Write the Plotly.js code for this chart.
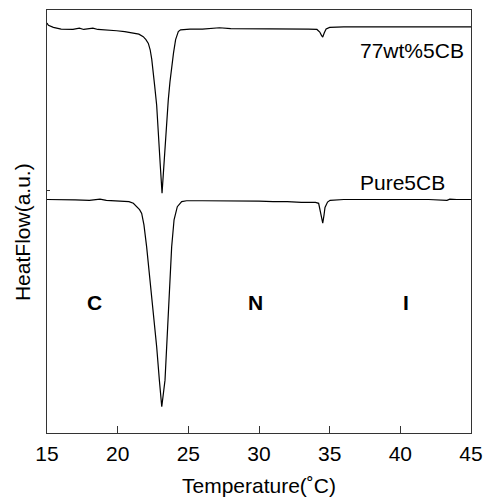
<!DOCTYPE html>
<html>
<head>
<meta charset="utf-8">
<script src="https://cdn.plot.ly/plotly-3.0.1.min.js"></script>
<style>html,body{margin:0;padding:0;background:#fff}#chart{width:486px;height:499px}</style>
</head>
<body>
<div id="chart"></div>
<script>
// Temperature (°C) and heat flow (arbitrary units)
const tempMix = [15.0, 15.1, 15.45, 16.0, 16.84, 17.29, 17.6, 18.25, 18.6, 19.3, 19.93, 20.5, 21.11, 21.5, 21.81, 22.0, 22.17, 22.3, 22.41, 22.52, 22.62, 22.76, 22.9, 23.02, 23.14, 23.26, 23.4, 23.58, 23.7, 23.82, 23.95, 24.1, 24.29, 24.45, 24.64, 25.12, 26.0, 26.8, 27.2, 28.0, 29.0, 30.0, 31.0, 32.5, 33.5, 34.1, 34.3, 34.42, 34.51, 34.62, 34.75, 35.0, 36.0, 38.0, 40.0, 42.0, 44.0, 45.0];
const flowMix = [96.9, 96.4, 95.9, 95.5, 95.4, 95.7, 95.4, 95.7, 95.4, 95.3, 95.1, 94.9, 94.6, 94.3, 93.7, 93.0, 92.1, 90.6, 88.4, 85.5, 82.0, 77.5, 71.0, 63.0, 56.7, 63.0, 71.0, 78.7, 83.0, 86.6, 89.8, 93.0, 94.9, 95.3, 95.4, 95.5, 95.5, 95.7, 95.8, 95.6, 95.6, 95.5, 95.5, 95.5, 95.5, 95.4, 94.8, 94.0, 93.6, 94.6, 95.5, 95.9, 96.0, 96.0, 96.0, 96.0, 96.0, 96.0];

const tempPure = [15.0, 16.0, 17.0, 18.0, 18.75, 19.2, 19.8, 20.4, 20.8, 21.11, 21.35, 21.55, 21.7, 21.86, 22.05, 22.29, 22.52, 22.76, 22.95, 23.12, 23.35, 23.47, 23.58, 23.7, 23.82, 23.99, 24.22, 24.53, 24.88, 26.0, 27.0, 28.0, 29.0, 30.0, 31.0, 32.0, 33.0, 34.0, 34.22, 34.38, 34.51, 34.6, 34.67, 34.85, 35.03, 36.0, 38.0, 40.0, 42.0, 43.3, 43.5, 44.0, 45.0];
const flowPure = [55.2, 55.2, 55.1, 55.0, 55.3, 55.0, 54.9, 54.9, 54.7, 54.3, 53.5, 52.8, 51.9, 49.2, 44.0, 36.2, 28.3, 20.4, 12.5, 6.2, 12.5, 20.4, 28.3, 36.2, 44.0, 50.4, 53.5, 54.7, 54.9, 54.9, 54.9, 54.8, 54.9, 54.8, 54.7, 54.7, 54.5, 54.5, 54.3, 52.0, 49.6, 51.5, 53.3, 54.6, 55.0, 55.2, 55.2, 55.2, 55.2, 55.0, 55.3, 55.2, 55.2];

const seriesLabels = ['77wt%5CB', 'Pure5CB'];
const labelX = [37.0, 37.0];
const labelY = [90.4, 59.3];
const phaseLabels = ['C', 'N', 'I'];
const phaseX = [18.36, 29.75, 40.42];
const phaseY = [30.8, 30.8, 30.8];
const xTicks = [15, 20, 25, 30, 35, 40, 45];

const font = 'Liberation Sans, Arial, sans-serif';
const lineStyle = {color: '#000', width: 1.2};

const traces = [
  {x: tempMix, y: flowMix, mode: 'lines', line: lineStyle, name: seriesLabels[0], hoverinfo: 'skip'},
  {x: tempPure, y: flowPure, mode: 'lines', line: lineStyle, name: seriesLabels[1], hoverinfo: 'skip'}
];

const annotations = [];
seriesLabels.forEach((t, i) => annotations.push({
  x: labelX[i], y: labelY[i], xref: 'x', yref: 'y', text: t, showarrow: false,
  xanchor: 'left', yanchor: 'middle', font: {family: font, size: 21, color: '#000'}
}));
phaseLabels.forEach((t, i) => annotations.push({
  x: phaseX[i], y: phaseY[i], xref: 'x', yref: 'y', text: '<b>' + t + '</b>', showarrow: false,
  xanchor: 'center', yanchor: 'middle', font: {family: font, size: 21, color: '#000'}
}));
annotations.push({
  x: -0.059, y: 0.475, xref: 'paper', yref: 'paper', text: 'HeatFlow(a.u.)', showarrow: false,
  textangle: -90, xanchor: 'center', yanchor: 'middle', font: {family: font, size: 21, color: '#000'}
});

const layout = {
  width: 486, height: 499,
  margin: {l: 47, r: 15, t: 10, b: 66, pad: 0},
  paper_bgcolor: '#fff', plot_bgcolor: '#fff',
  showlegend: false,
  font: {family: font, size: 21, color: '#000'},
  xaxis: {
    range: [15, 45], tickvals: xTicks, ticktext: xTicks.map(String),
    ticks: 'inside', ticklen: 7, tickwidth: 1, tickcolor: '#333',
    showline: true, linecolor: '#333', linewidth: 1, mirror: true,
    showgrid: false, zeroline: false, ticklabelstandoff: 2,
    tickfont: {family: font, size: 21, color: '#000'},
    title: {text: 'Temperature(˚C)', font: {family: font, size: 21, color: '#000'}, standoff: 14}
  },
  yaxis: {
    range: [0, 100], tickvals: [57.4], showticklabels: false,
    ticks: 'inside', ticklen: 3, tickcolor: '#333',
    showline: true, linecolor: '#333', linewidth: 1, mirror: true,
    showgrid: false, zeroline: false
  },
  annotations: annotations
};

Plotly.newPlot('chart', traces, layout, {staticPlot: true, displayModeBar: false});
</script>
</body>
</html>
